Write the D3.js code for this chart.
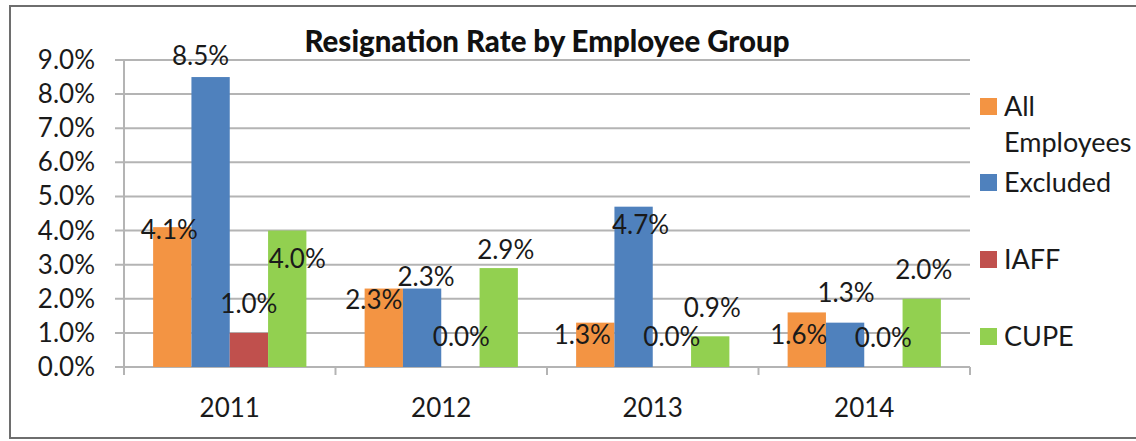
<!DOCTYPE html>
<html>
<head>
<meta charset="utf-8">
<script src="https://cdn.jsdelivr.net/npm/d3@7"></script>
<style>
  html, body { margin: 0; padding: 0; background: #fff; }
  svg { display: block; font-family: Lato, "Open Sans", sans-serif; }
</style>
</head>
<body>
<svg id="chart" width="1136" height="441"></svg>
<script>
// Resignation rates (%) by year and employee group
const years = ["2011", "2012", "2013", "2014"];
const groups = ["All Employees", "Excluded", "IAFF", "CUPE"];
const allEmployees = [4.1, 2.3, 1.3, 1.6];
const excluded = [8.5, 2.3, 4.7, 1.3];
const iaff = [1.0, 0.0, 0.0, 0.0];
const cupe = [4.0, 2.9, 0.9, 2.0];
const yTicks = [0, 1, 2, 3, 4, 5, 6, 7, 8, 9];

const seriesValues = [allEmployees, excluded, iaff, cupe];
const colors = ["#F39443", "#4F81BD", "#C0504D", "#92D050"];

// Label nudges (px) from the top-centre of each bar, by series then year
const labelNudge = [
  [[-3, 3], [-10, 11], [-13, 12], [-8, 23]],
  [[-10, -21], [4, -12], [7, 18], [1, -30]],
  [[0, -29], [1, -30], [0, -30], [0, -29]],
  [[10, 28], [7, -18], [2, -28], [2, -29]]
];

const svg = d3.select("#chart");
const plot = { left: 124, right: 970, top: 60, bottom: 367 };
const fontSize = 26;

const x0 = d3.scaleBand().domain(years).range([plot.left, plot.right]).paddingInner(0).paddingOuter(0);
const x1 = d3.scaleBand().domain(d3.range(groups.length))
  .range([0, x0.bandwidth()]).paddingOuter(0.76).paddingInner(0);
const y = d3.scaleLinear().domain([0, 9]).range([plot.bottom, plot.top]);

// Outer frame (left, top, bottom edges)
svg.append("path")
  .attr("d", `M1136,6 H10 V438 H1136`)
  .attr("fill", "none").attr("stroke", "#6e6e6e").attr("stroke-width", 2);

// Gridlines
svg.append("g").selectAll("line").data(yTicks).join("line")
  .attr("x1", plot.left - 9).attr("x2", plot.right)
  .attr("y1", d => y(d)).attr("y2", d => y(d))
  .attr("stroke", "#b4b4b4").attr("stroke-width", 2);

// Y axis line and labels
svg.append("line")
  .attr("x1", plot.left).attr("x2", plot.left)
  .attr("y1", plot.top).attr("y2", plot.bottom + 8)
  .attr("stroke", "#b4b4b4").attr("stroke-width", 2);

svg.append("g").selectAll("text").data(yTicks).join("text")
  .attr("x", 95).attr("y", d => y(d) + 9)
  .attr("text-anchor", "end")
  .attr("font-size", fontSize).attr("fill", "#1a1a1a")
  .text(d => d3.format(".1f")(d) + "%");

// Category ticks along the base
svg.append("g").selectAll("line").data(years).join("line")
  .attr("x1", d => x0(d) + x0.bandwidth())
  .attr("x2", d => x0(d) + x0.bandwidth())
  .attr("y1", plot.bottom).attr("y2", plot.bottom + 8)
  .attr("stroke", "#b4b4b4").attr("stroke-width", 2);

svg.append("g").selectAll("text").data(years).join("text")
  .attr("x", d => x0(d) + x0.bandwidth() / 2)
  .attr("y", 417)
  .attr("text-anchor", "middle")
  .attr("font-size", fontSize).attr("fill", "#1a1a1a")
  .text(d => d);

// Bars
const barData = [];
seriesValues.forEach((vals, s) => vals.forEach((v, i) => barData.push({ s, i, v })));

svg.append("g").selectAll("rect").data(barData).join("rect")
  .attr("x", d => x0(years[d.i]) + x1(d.s))
  .attr("width", x1.bandwidth())
  .attr("y", d => y(d.v))
  .attr("height", d => y(0) - y(d.v))
  .attr("fill", d => colors[d.s]);

// Value labels
svg.append("g").selectAll("text").data(barData).join("text")
  .attr("x", d => x0(years[d.i]) + x1(d.s) + x1.bandwidth() / 2 + labelNudge[d.s][d.i][0])
  .attr("y", d => y(d.v) + labelNudge[d.s][d.i][1] + 9)
  .attr("text-anchor", "middle")
  .attr("font-size", fontSize).attr("fill", "#1a1a1a")
  .text(d => d3.format(".1f")(d.v) + "%");

// Title
svg.append("text")
  .attr("x", 547).attr("y", 52)
  .attr("text-anchor", "middle")
  .attr("font-size", 29.4).attr("font-weight", 900).attr("fill", "#111")
  .text("Resignation Rate by Employee Group");

// Legend
const legendRows = [
  { lines: ["All", "Employees"], cy: 107 },
  { lines: ["Excluded"], cy: 183 },
  { lines: ["IAFF"], cy: 260 },
  { lines: ["CUPE"], cy: 337 }
];
const leg = svg.append("g");
legendRows.forEach((r, k) => {
  leg.append("rect")
    .attr("x", 980).attr("y", r.cy - 9).attr("width", 17).attr("height", 17)
    .attr("fill", colors[k]);
  r.lines.forEach((t, j) => {
    leg.append("text")
      .attr("x", 1004).attr("y", r.cy + 9 + j * 36)
      .attr("font-size", 27).attr("fill", "#1a1a1a")
      .text(t);
  });
});
</script>
</body>
</html>
